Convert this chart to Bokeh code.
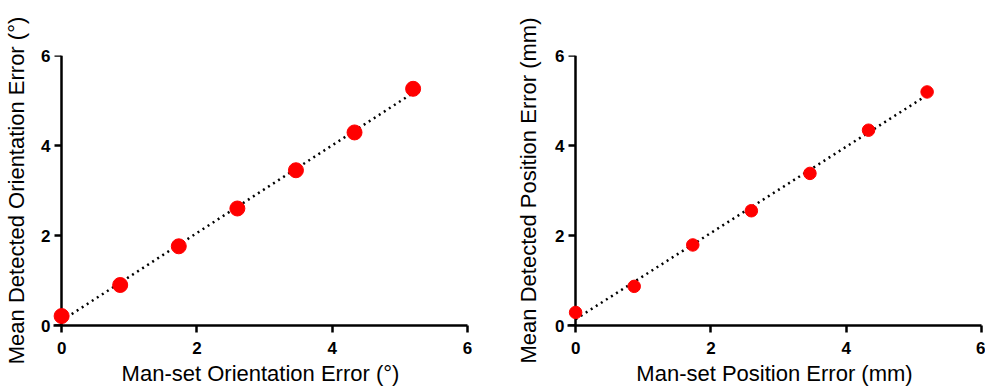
import numpy as np
from bokeh.plotting import figure
from bokeh.layouts import row
from bokeh.models import FixedTicker, Range1d, LinearAxis
from bokeh.embed import file_html
from bokeh.resources import INLINE

# ---- data ----
man_set = [0.0, 0.866, 1.732, 2.598, 3.464, 4.330, 5.196]
orient_detected = [0.21, 0.90, 1.76, 2.60, 3.45, 4.29, 5.26]
pos_detected = [0.29, 0.87, 1.79, 2.55, 3.38, 4.34, 5.19]
tick_values = [0, 2, 4, 6]

left_xlabel = "Man-set Orientation Error (°)"
left_ylabel = "Mean Detected Orientation Error (°)"
right_xlabel = "Man-set Position Error (mm)"
right_ylabel = "Mean Detected Position Error (mm)"

FONT = "Liberation Sans"


def style_axis(ax):
    ax.ticker = FixedTicker(ticks=tick_values)
    ax.axis_line_width = 2.5
    ax.axis_line_color = "black"
    ax.major_tick_line_width = 2.5
    ax.major_tick_line_color = "black"
    ax.major_tick_out = 7
    ax.major_tick_in = 0
    ax.minor_tick_line_color = None
    ax.major_label_text_font = FONT
    ax.major_label_text_font_style = "bold"
    ax.major_label_text_font_size = "17px"
    ax.major_label_text_color = "black"
    ax.axis_label_text_font = FONT
    ax.axis_label_text_font_style = "normal"
    ax.axis_label_text_font_size = "22px"
    ax.axis_label_text_color = "black"


def make_panel(xs, ys, xlabel, ylabel, width, height, borders, dot_size, ylab_standoff):
    bl, br, bt, bb = borders
    p = figure(width=width, height=height, output_backend="svg",
               toolbar_location=None, x_range=Range1d(-0.12, 6),
               y_range=Range1d(0, 6), min_border_left=bl, min_border_right=br,
               min_border_top=bt, min_border_bottom=bb)
    p.outline_line_color = None
    p.grid.visible = False
    p.background_fill_color = "white"
    p.border_fill_color = "white"

    # x axis (bottom)
    xa = p.xaxis[0]
    style_axis(xa)
    xa.axis_label = xlabel
    xa.major_label_standoff = 9
    xa.axis_label_standoff = 4
    xa.axis_label_text_line_height = 0.9

    # y axis on the left: only tick labels and title (line drawn at x = 0 below)
    ya = p.yaxis[0]
    style_axis(ya)
    ya.axis_label = ylabel
    ya.axis_line_color = None
    ya.major_tick_line_color = None
    ya.major_tick_out = 0
    ya.major_label_standoff = 3
    ya.axis_label_standoff = ylab_standoff

    # y axis line and ticks drawn at x = 0 (no labels)
    y0 = LinearAxis(fixed_location=0)
    style_axis(y0)
    y0.major_tick_out = 0
    y0.major_tick_in = 7
    y0.major_label_text_font_size = "1px"
    y0.major_label_text_color = None
    y0.major_label_standoff = 0
    p.add_layout(y0, "right")

    # regression line (dotted), under the points
    slope, intercept = np.polyfit(xs, ys, 1)
    lx = [min(xs), max(xs)]
    ly = [intercept + slope * v for v in lx]
    p.line(lx, ly, line_color="black", line_width=2.5, line_dash="2 4")

    r = p.scatter(xs, ys, size=dot_size, fill_color="#ff0000", line_color="#ff0000")
    r.level = "overlay"
    return p


p1 = make_panel(man_set, orient_detected, left_xlabel, left_ylabel,
                512, 388, (53, 45, 55, 62), 15, 9)
p2 = make_panel(man_set, pos_detected, right_xlabel, right_ylabel,
                473, 388, (55, 4, 53, 63), 12.5, 11)

layout = row(p1, p2)
open("out.html", "w").write(file_html(layout, INLINE))
